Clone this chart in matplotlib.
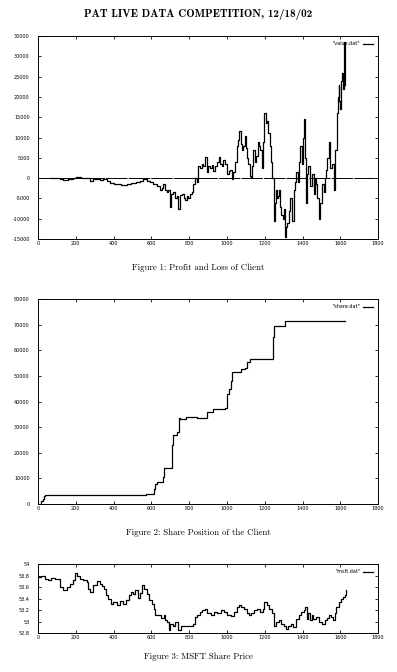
import matplotlib
matplotlib.use('Agg')
import matplotlib.pyplot as plt

# figure 1: profit and loss of client (value.dat)
pnl_x = [62, 90, 115, 133, 160, 185, 203, 225, 256, 274, 290, 309, 330, 345, 365, 380, 400, 415, 440, 469,
         490, 504, 520, 540, 557, 575, 595, 610, 630, 645, 655, 663, 672, 680, 690, 698, 705, 716, 725, 734,
         742, 750, 760, 770, 778, 788, 796, 805, 813, 822, 831, 840, 849, 857, 866, 875, 884, 893, 902, 911,
         920, 928, 937, 946, 955, 963, 972, 981, 990, 999, 1008, 1016, 1025, 1034, 1043, 1052, 1060, 1066, 1072, 1078,
         1087, 1096, 1100, 1105, 1112, 1119, 1126, 1133, 1140, 1149, 1155, 1162, 1169, 1176, 1185, 1191, 1197, 1204, 1211, 1218,
         1225, 1231, 1238, 1247, 1253, 1259, 1265, 1270, 1276, 1282, 1288, 1294, 1301, 1308, 1314, 1320, 1328, 1335, 1343, 1352,
         1359, 1366, 1375, 1381, 1387, 1396, 1402, 1408, 1413, 1419, 1425, 1431, 1440, 1449, 1458, 1465, 1472, 1478, 1485, 1494,
         1502, 1511, 1517, 1523, 1530, 1538, 1546, 1555, 1564, 1569, 1573, 1581, 1586, 1590, 1595, 1599, 1604, 1608, 1613, 1617,
         1622]
pnl_y = [100, 0, -300, -500, -300, 100, 300, 100, 0, -600, -300, -200, -400, -300, -800, -1200, -1500, -1400, -1600, -1500,
         -1300, -1100, -900, -800, -200, -600, -1000, -1500, -2000, -2800, -2500, -1500, -2800, -3500, -3000, -7000, -4000, -3500, -5000, -4500,
         -7500, -4200, -4000, -5000, -5500, -4300, -4800, -4000, -3500, -1500, 0, -1000, 3000, 2500, 3500, 3000, 5200, 1500, 3000, 2500,
         3200, 1800, 3000, 4000, 5200, 3500, 3000, 4500, 3500, 1000, 1800, 2000, -300, 1500, 4000, 8000, 9500, 11500, 8500, 7000,
         8000, 10500, 7500, 5000, 3500, 500, 0, 3000, 7000, 4000, 5500, 9000, 8000, 7000, 2500, 9000, 16000, 13500, 14000, 11000,
         8000, 4000, 0, -10500, -6000, -3000, -5000, -4500, -3000, -7000, -9000, -10000, -7500, -14500, -12000, -11000, -8000, -5000, -10500, -3000,
         -1000, 1500, -1000, 4000, 8000, 3500, 10000, 14500, 5000, -6000, 1000, 3000, -2000, 1000, -4000, 0, -1500, -5000, -10000, -6000,
         -1500, -3500, 0, 2000, 5000, 9000, 2500, 3500, -3000, 2000, 7000, 16000, 20000, 23000, 19000, 17000, 24000, 26000, 22000, 33500,
         23000]

# figure 2: share position (share.dat), step changes
share_x = [5, 15, 25, 32, 39, 569, 615, 620, 628, 660, 667, 711, 715, 734, 744, 753, 781, 840, 893, 928,
           990, 1002, 1010, 1020, 1024, 1073, 1096, 1108, 1119, 1243, 1248, 1308, 1623]
share_y = [0, 1000, 2000, 3000, 3500, 4000, 6000, 8000, 8500, 10500, 14000, 23000, 27000, 28000, 33500, 33000, 34000, 33500, 36000, 37000,
           37500, 43000, 45000, 48000, 51500, 52500, 53000, 55500, 56500, 65000, 69500, 71500, 71500]

# figure 3: MSFT share price (msft.dat)
msft_x = [4, 18, 35, 53, 71, 89, 106, 115, 133, 151, 168, 183, 195, 204, 222, 239, 257, 266, 275, 293,
          310, 328, 337, 349, 360, 372, 385, 399, 417, 434, 452, 466, 479, 491, 505, 514, 527, 541, 550, 562,
          576, 585, 603, 612, 621, 638, 651, 665, 674, 683, 691, 700, 715, 727, 739, 754, 771, 789, 807, 819,
          830, 842, 855, 869, 881, 895, 913, 931, 949, 966, 984, 1002, 1020, 1037, 1051, 1064, 1076, 1090, 1104, 1117,
          1129, 1144, 1161, 1176, 1188, 1197, 1209, 1223, 1236, 1247, 1259, 1273, 1285, 1300, 1312, 1324, 1339, 1351, 1365, 1379,
          1392, 1405, 1413, 1422, 1431, 1440, 1449, 1457, 1472, 1489, 1502, 1516, 1530, 1542, 1551, 1560, 1569, 1578, 1590, 1601,
          1613, 1622, 1627]
msft_price = [53.78, 53.79, 53.74, 53.72, 53.76, 53.74, 53.74, 53.60, 53.55, 53.60, 53.66, 53.72, 53.84, 53.80, 53.74, 53.73, 53.69, 53.57, 53.52, 53.63,
              53.70, 53.66, 53.62, 53.57, 53.46, 53.40, 53.31, 53.34, 53.29, 53.35, 53.31, 53.37, 53.46, 53.52, 53.47, 53.55, 53.41, 53.49, 53.63, 53.57,
              53.47, 53.37, 53.31, 53.22, 53.11, 53.11, 53.06, 53.11, 53.02, 52.99, 52.85, 52.96, 52.93, 52.99, 52.85, 52.93, 52.92, 52.93, 52.92, 52.96,
              53.08, 53.11, 53.17, 53.20, 53.22, 53.14, 53.12, 53.17, 53.14, 53.20, 53.17, 53.12, 53.10, 53.17, 53.25, 53.28, 53.25, 53.22, 53.15, 53.12,
              53.15, 53.20, 53.22, 53.17, 53.22, 53.34, 53.29, 53.22, 53.14, 52.93, 52.99, 53.02, 52.96, 52.93, 52.87, 52.92, 52.96, 52.90, 53.05, 53.11,
              53.17, 53.20, 53.25, 53.05, 53.14, 53.02, 53.12, 53.04, 53.08, 52.99, 52.96, 53.02, 53.06, 53.11, 53.08, 53.02, 53.14, 53.25, 53.34, 53.40,
              53.43, 53.46, 53.55]

x_ticks = [0, 200, 400, 600, 800, 1000, 1200, 1400, 1600, 1800]
pnl_ticks = [-15000, -10000, -5000, 0, 5000, 10000, 15000, 20000, 25000, 30000, 35000]
share_ticks = [0, 10000, 20000, 30000, 40000, 50000, 60000, 70000, 80000]
msft_ticks = [52.8, 53.0, 53.2, 53.4, 53.6, 53.8, 54.0]

tick_fs = 3.5
lw = 0.9


def style(ax, yticks):
    ax.set_xlim(0, 1800)
    ax.set_ylim(yticks[0], yticks[-1])
    ax.set_xticks(x_ticks)
    ax.set_xticklabels([str(t) for t in x_ticks])
    ax.set_yticks(yticks)
    ax.set_yticklabels(['%g' % t for t in yticks])
    ax.tick_params(direction='in', top=True, right=True, length=2.5, width=0.6, labelsize=tick_fs)
    ax.tick_params(axis='y', pad=6)
    ax.tick_params(axis='x', pad=1.5)
    for s in ax.spines.values():
        s.set_linewidth(0.7)
    ax.legend(loc='upper right', frameon=False, markerfirst=False, fontsize=tick_fs,
              handlelength=2.0, borderaxespad=0.7, handletextpad=0.6)


fig = plt.figure(figsize=(3.97, 6.72), dpi=100)

ax1 = fig.add_axes([0.0957, 0.6443, 0.857, 0.302])
ax1.plot(pnl_x, pnl_y, color='black', lw=lw, drawstyle='steps-post', label='"value.dat"')
ax1.axhline(0, color='black', lw=0.7, dashes=(22, 1.2))
style(ax1, pnl_ticks)

ax2 = fig.add_axes([0.0957, 0.25, 0.857, 0.305])
ax2.plot(share_x, share_y, color='black', lw=lw, drawstyle='steps-post', label='"share.dat"')
style(ax2, share_ticks)

ax3 = fig.add_axes([0.0957, 0.058, 0.857, 0.1027])
ax3.plot(msft_x, msft_price, color='black', lw=lw, drawstyle='steps-post', label='"msft.dat"')
style(ax3, msft_ticks)

fig.text(0.5, 0.979, 'PAT LIVE DATA COMPETITION, 12/18/02', ha='center', va='center',
         family='cmb10', fontsize=8)
fig.text(0.5, 0.601, 'Figure 1: Profit and Loss of Client', ha='center', va='center',
         family='cmr10', fontsize=6.3)
fig.text(0.5, 0.207, 'Figure 2: Share Position of the Client', ha='center', va='center',
         family='cmr10', fontsize=6.3)
fig.text(0.5, 0.0223, 'Figure 3: MSFT Share Price', ha='center', va='center',
         family='cmr10', fontsize=6.3)

fig.savefig('out.png', dpi=100)
